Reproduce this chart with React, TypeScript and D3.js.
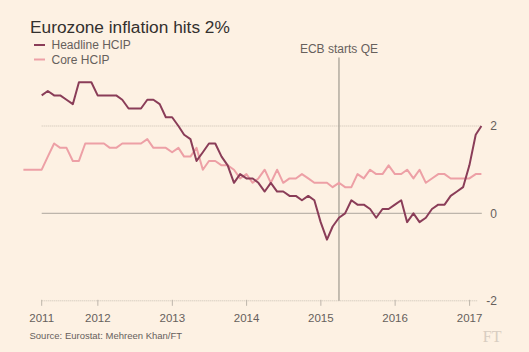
import { useEffect, useRef } from "react";
import * as d3 from "d3";

// monthly readings, % y/y
const headlineStart = [2011, 2]; // March 2011
const headline = [
  2.7, 2.8, 2.7, 2.7, 2.6, 2.5, 3.0, 3.0, 3.0, 2.7,
  2.7, 2.7, 2.7, 2.6, 2.4, 2.4, 2.4, 2.6, 2.6, 2.5, 2.2, 2.2,
  2.0, 1.8, 1.7, 1.2, 1.4, 1.6, 1.6, 1.3, 1.1, 0.7, 0.9, 0.8,
  0.8, 0.7, 0.5, 0.7, 0.5, 0.5, 0.4, 0.4, 0.3, 0.4, 0.3, -0.2,
  -0.6, -0.3, -0.1, 0.0, 0.3, 0.2, 0.2, 0.1, -0.1, 0.1, 0.1, 0.2,
  0.3, -0.2, 0.0, -0.2, -0.1, 0.1, 0.2, 0.2, 0.4, 0.5, 0.6, 1.1,
  1.8, 2.0,
];
const coreStart = [2010, 11]; // December 2010
const core = [
  1.0,
  1.0, 1.0, 1.0, 1.3, 1.6, 1.5, 1.5, 1.2, 1.2, 1.6, 1.6, 1.6,
  1.6, 1.5, 1.5, 1.6, 1.6, 1.6, 1.6, 1.7, 1.5, 1.5, 1.5, 1.4,
  1.5, 1.3, 1.3, 1.5, 1.0, 1.2, 1.2, 1.1, 1.1, 1.0, 0.8, 0.9,
  0.7, 0.8, 1.0, 0.7, 1.0, 0.7, 0.8, 0.8, 0.9, 0.8, 0.7, 0.7,
  0.7, 0.6, 0.7, 0.6, 0.6, 0.9, 0.8, 1.0, 0.9, 0.9, 1.1, 0.9,
  0.9, 1.0, 0.8, 1.0, 0.7, 0.8, 0.9, 0.9, 0.8, 0.8, 0.8, 0.8,
  0.9, 0.9,
];
const yearTicks = [2011, 2012, 2013, 2014, 2015, 2016, 2017];
const yTicks = [2, 0, -2];
const seriesNames = ["Headline HCIP", "Core HCIP"];
const seriesColors = ["#8a3d58", "#eda0a6"];
const qeDate = new Date(2015, 2, 31);

// values are plotted at month end
const toPoints = (start, values) =>
  values.map((v, i) => ({ date: new Date(start[0], start[1] + i + 1, 0), value: v }));

export default function App() {
  const ref = useRef(null);
  useEffect(() => {
    const svg = d3.select(ref.current);
    svg.selectAll("*").remove();
    const font = "'Liberation Sans', Arial, sans-serif";
    const grey = "#66605c";

    svg.append("rect").attr("width", 529).attr("height", 352).attr("fill", "#fdf1e3");

    const x = d3
      .scaleTime()
      .domain([new Date(2011, 2, 31), new Date(2017, 1, 28)])
      .range([41.7, 481.4]);
    const y = d3.scaleLinear().domain([-2, 2]).range([300.8, 126]);

    // title + legend
    svg.append("text").attr("x", 30).attr("y", 33).attr("font-family", font)
      .attr("font-size", 17.3).attr("fill", "#33302e").text("Eurozone inflation hits 2%");
    seriesNames.forEach((name, i) => {
      const ly = 45 + i * 14.5;
      svg.append("line").attr("x1", 34).attr("x2", 45).attr("y1", ly).attr("y2", ly)
        .attr("stroke", seriesColors[i]).attr("stroke-width", 2);
      svg.append("text").attr("x", 51.5).attr("y", ly + 4).attr("font-family", font)
        .attr("font-size", 12).attr("fill", grey).text(name);
    });

    // y gridlines + labels
    const labelRight = 497;
    yTicks.forEach((t) => {
      const label = svg.append("text").attr("x", labelRight).attr("y", y(t) + 4.2)
        .attr("text-anchor", "end").attr("font-family", font).attr("font-size", 12)
        .attr("fill", grey).text(t < 0 ? "-" + Math.abs(t) : String(t));
      const w = label.node().getComputedTextLength();
      const end = labelRight - w - 8.5;
      svg.append("line").attr("x1", x.range()[0]).attr("x2", end)
        .attr("y1", y(t)).attr("y2", y(t))
        .attr("stroke", t === 0 ? "#bdb5ab" : "#c8beb3")
        .attr("stroke-width", t === 0 ? 1.2 : 1)
        .attr("stroke-dasharray", t === 0 ? null : "1,1");
    });

    // x ticks
    const d0 = x.domain()[0];
    yearTicks.forEach((yr) => {
      const d = new Date(yr, 0, 1) < d0 ? d0 : new Date(yr, 0, 1);
      const tx = x(d);
      svg.append("line").attr("x1", tx).attr("x2", tx).attr("y1", y(-2) - 1).attr("y2", y(-2) + 5)
        .attr("stroke", "#bdb5ab").attr("stroke-width", 1);
      svg.append("text").attr("x", tx).attr("y", 321.5).attr("text-anchor", "middle")
        .attr("font-family", font).attr("font-size", 11.5).attr("fill", grey).text(yr);
    });

    // QE marker
    svg.append("line").attr("x1", x(qeDate)).attr("x2", x(qeDate)).attr("y1", 57.5).attr("y2", y(-2))
      .attr("stroke", "#a69f96").attr("stroke-width", 1.3);
    svg.append("text").attr("x", x(qeDate)).attr("y", 52.5).attr("text-anchor", "middle")
      .attr("font-family", font).attr("font-size", 12).attr("fill", grey).text("ECB starts QE");

    const line = d3.line().x((d) => x(d.date)).y((d) => y(d.value));
    [toPoints(coreStart, core), toPoints(headlineStart, headline)].forEach((pts, i) => {
      svg.append("path").datum(pts).attr("fill", "none")
        .attr("stroke", seriesColors[1 - i]).attr("stroke-width", 2)
        .attr("stroke-linejoin", "round").attr("d", line);
    });

    // footer
    svg.append("text").attr("x", 29.5).attr("y", 339).attr("font-family", font)
      .attr("font-size", 9.5).attr("fill", grey).text("Source: Eurostat: Mehreen Khan/FT");
    svg.append("text").attr("x", 501.5).attr("y", 341.5).attr("text-anchor", "end")
      .attr("font-family", "'Liberation Serif', serif").attr("font-size", 16)
      .attr("fill", "#d8cdc1").text("FT");
  }, []);

  return (
    <svg ref={ref} width={529} height={352}
      style={{ position: "absolute", left: 0, top: 0, display: "block" }} />
  );
}
